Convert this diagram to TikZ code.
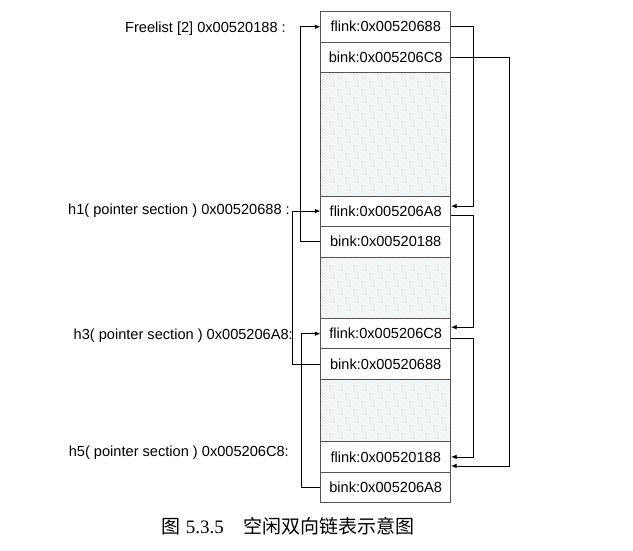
\documentclass[tikz,border=0pt]{standalone}
\usepackage{fontspec}
\setmainfont{Liberation Sans}
\newfontfamily\capserif{Liberation Serif}
\newfontfamily\cjk{Noto Sans CJK SC}
\usetikzlibrary{arrows.meta,patterns}
\definecolor{boxline}{RGB}{85,85,85}
\definecolor{hatchc}{RGB}{222,227,236}
\tikzset{
  cell/.style={draw=boxline, line width=0.8pt, minimum width=130pt, inner sep=0pt, anchor=north,
    font=\fontsize{14.6}{16}\selectfont, fill=white},
  hatchcell/.style={cell, pattern=north east lines, pattern color=hatchc},
  lbl/.style={anchor=east, inner sep=0pt, font=\fontsize{14.6}{16}\selectfont},
  link/.style={draw=black, line width=0.7pt, -{Latex[length=5.5pt,width=4.5pt]}}
}
\begin{document}
\begin{tikzpicture}[x=1pt,y=-1pt]
\useasboundingbox (0,0) rectangle (633,550);
% column of cells
\node[cell, minimum height=30.7pt] (f1) at (385.7,11) {flink:0x00520688};
\node[cell, minimum height=30.6pt] (b1) at (385.7,41.7) {bink:0x005206C8};
\node[hatchcell, minimum height=123.4pt] (hA) at (385.7,72.3) {};
\node[cell, minimum height=30pt] (f2) at (385.7,195.7) {flink:0x005206A8};
\node[cell, minimum height=31pt] (b2) at (385.7,225.7) {bink:0x00520188};
\node[hatchcell, minimum height=61.6pt] (hB) at (385.7,256.7) {};
\node[cell, minimum height=30pt] (f3) at (385.7,318.3) {flink:0x005206C8};
\node[cell, minimum height=30.7pt] (b3) at (385.7,348.3) {bink:0x00520688};
\node[hatchcell, minimum height=62pt] (hC) at (385.7,379) {};
\node[cell, minimum height=31pt] (f4) at (385.7,441) {flink:0x00520188};
\node[cell, minimum height=30.3pt] (b4) at (385.7,472) {bink:0x005206A8};
% labels
\node[lbl] (lfree) at (286,29) {Freelist [2] 0x00520188 :};
\node[lbl] (lh1) at (290,211) {h1( pointer section ) 0x00520688 :};
\node[lbl] (lh3) at (293,336) {h3( pointer section ) 0x005206A8:};
\node[lbl] (lh5) at (289,453) {h5( pointer section ) 0x005206C8:};
% right-side links
\draw[link] (f1.east) -- ++(22,0) |- ([yshift=5pt]f2.east);
\draw[link] (b1.east) -- ++(58.5,0) |- ([yshift=-9pt]f4.east);
\draw[link] ([yshift=-4.5pt]f2.east) -- ++(22,0) |- ([yshift=6.5pt]f3.east);
\draw[link] ([yshift=-5pt]f3.east) -- ++(22,0) |- (f4.east);
% left-side links
\draw[link] (b2.west) -- ++(-19.5,0) |- (f1.west);
\draw[link] (b3.west) -- ++(-27.5,0) |- (f2.west);
\draw[link] (b4.west) -- ++(-19,0) |- (f3.west);
% caption
\node[anchor=west, inner sep=0pt, font=\fontsize{19}{21}\selectfont] (cap) at (161,526)
  {{\cjk 图}\hspace{0.3em}{\capserif 5.3.5}\hspace{1.05em}{\cjk 空闲双向链表示意图}};
\end{tikzpicture}
\end{document}
